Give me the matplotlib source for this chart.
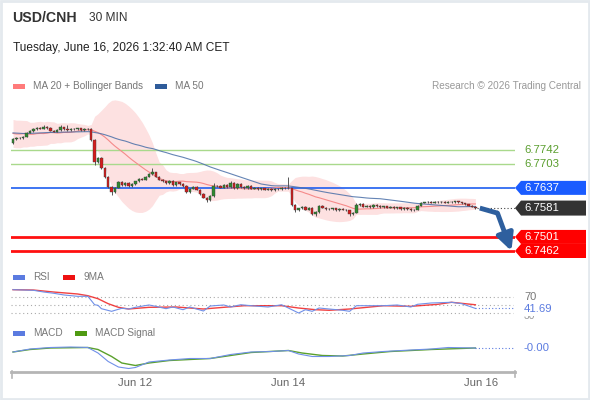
import numpy as np
import pandas as pd
import matplotlib
matplotlib.use("Agg")
import matplotlib.pyplot as plt
import matplotlib.transforms as mtransforms
from matplotlib.patches import Polygon, Rectangle
from matplotlib.lines import Line2D

plt.rcParams['font.family'] = ['Liberation Sans', 'DejaVu Sans']

# ---- data ----
prior_close = [6.7820, 6.7805, 6.7775, 6.7762, 6.7795, 6.7822, 6.7800, 6.7768, 6.7790, 6.7815,
               6.7780, 6.7760, 6.7800, 6.7820, 6.7795, 6.7772, 6.7805, 6.7790, 6.7770, 6.7762]

close = [6.7772, 6.7776, 6.7774, 6.7779,
         6.7790, 6.7795,
         6.7800, 6.7804, 6.7801, 6.7806, 6.7803, 6.7796, 6.7793, 6.7798, 6.7805, 6.7800,
         6.7797, 6.7801, 6.7799, 6.7802, 6.7798, 6.7801, 6.7800,
         6.7770, 6.7709, 6.7720, 6.7692, 6.7667, 6.7639, 6.7626, 6.7638, 6.7653,
         6.7645, 6.7650, 6.7641, 6.7648,
         6.7655, 6.7662, 6.7660, 6.7668, 6.7675,
         6.7680, 6.7668, 6.7660, 6.7655,
         6.7650, 6.7657, 6.7645, 6.7652, 6.7648, 6.7642,
         6.7625, 6.7635, 6.7640, 6.7632,
         6.7620, 6.7610, 6.7604, 6.7614, 6.7641,
         6.7643, 6.7638, 6.7645, 6.7640, 6.7650, 6.7636, 6.7648,
         6.7640, 6.7637, 6.7642, 6.7635, 6.7638, 6.7633, 6.7636, 6.7632, 6.7634, 6.7631,
         6.7635, 6.7633, 6.7637, 6.7636, 6.7636,
         6.7590, 6.7576, 6.7580, 6.7585, 6.7577, 6.7582, 6.7565, 6.7570,
         6.7588, 6.7582, 6.7579, 6.7578, 6.7580, 6.7576, 6.7579, 6.7577, 6.7575, 6.7564, 6.7568,
         6.7590, 6.7592, 6.7585, 6.7588, 6.7583, 6.7590, 6.7587, 6.7584, 6.7586, 6.7582,
         6.7585, 6.7580, 6.7583, 6.7579, 6.7581, 6.7578, 6.7575, 6.7577,
         6.7588, 6.7596, 6.7597, 6.7598, 6.7596, 6.7599, 6.7597, 6.7598, 6.7596, 6.7599,
         6.7598, 6.7600, 6.7597,
         6.7594, 6.7591, 6.7588, 6.7585, 6.7581]

wick_hi = {9: 6.7811, 14: 6.7812, 16: 6.7810, 41: 6.7692, 59: 6.7650, 64: 6.7656, 81: 6.7667, 101: 6.7596}
wick_lo = {24: 6.7700, 29: 6.7618, 57: 6.7598, 83: 6.7570, 89: 6.7560, 99: 6.7558}

rsi_x = [0, 6, 9, 12, 15, 19, 22, 23, 24, 25, 26, 29, 30, 32, 34, 36, 40, 42, 45, 47, 50, 52, 56, 58,
         62, 64, 67, 70, 75, 79, 81, 84, 86, 88, 90, 93, 97, 99, 101, 105, 109, 113, 117, 119,
         123, 129, 132, 136]
rsi_val = [89.4, 87.8, 83.5, 80.2, 75.9, 72.5, 72.5, 62.0, 51.1, 49.6, 41.0, 34.3, 36.9, 42.0, 40.2,
           44.5, 50.4, 47.0, 41.0, 45.3, 38.4, 45.3, 35.1, 47.8, 50.4, 45.3, 51.1, 48.6, 45.3, 51.1,
           42.7, 30.0, 38.4, 34.3, 42.7, 40.2, 36.9, 34.3, 48.6, 48.6, 48.6, 50.4, 45.3, 52.2,
           55.5, 57.3, 53.7, 41.69]
rsi_ma_x = [0, 6, 12, 19, 22, 25, 28, 31, 34, 40, 48, 56, 62, 68, 75, 79, 84, 89, 93, 99, 109, 117,
            125, 129, 136]
rsi_ma_val = [89.4, 88.5, 83.4, 78.4, 74.1, 66.4, 53.7, 44.5, 40.2, 44.5, 45.3, 40.2, 44.5, 48.6,
              48.6, 48.6, 42.7, 38.4, 36.9, 40.2, 48.6, 47.0, 52.2, 57.3, 51.0]

macd_x = [0, 5, 11, 17, 22, 25, 28, 31, 34, 36, 40, 46, 52, 58, 64, 70, 76, 81, 84, 88, 93, 99,
          103, 109, 117, 123, 128, 136]
macd_val = [-0.0008, -0.0002, 0.0001, 0.0002, 0.0001, -0.0010, -0.0027, -0.0038, -0.0041, -0.0039,
            -0.0028, -0.0024, -0.0021, -0.0021, -0.0013, -0.0008, -0.0007, -0.0005, -0.0012,
            -0.0017, -0.0017, -0.0015, -0.0010, -0.0007, -0.0004, -0.0002, 0.0001, 0.0000]
sig_x = [0, 5, 11, 22, 25, 29, 32, 36, 40, 46, 52, 58, 64, 70, 81, 85, 91, 97, 103, 111, 123, 136]
sig_val = [-0.0008, -0.0003, 0.0000, 0.0001, -0.0003, -0.0017, -0.0030, -0.0035, -0.0030, -0.0025,
           -0.0023, -0.0021, -0.0015, -0.0009, -0.0005, -0.0010, -0.0015, -0.0016, -0.0012,
           -0.0007, -0.0003, 0.0000]

levels_green = [6.7742, 6.7703]
level_blue = 6.7637
levels_red = [6.7501, 6.7462]
last_price = 6.7581
rsi_last = 41.69
macd_last = "-0.00"
arrow_x = [137.3, 142.5, 146.6]
arrow_y = [6.7581, 6.7567, 6.7462]
tick_pos = [36, 81, 137.6]
tick_lbl = ["Jun 12", "Jun 14", "Jun 16"]

# ---- derived series ----
full = pd.Series(prior_close + close)
n_prior = len(prior_close)
ma20 = full.rolling(20, min_periods=1).mean().values[n_prior:]
sd20 = full.rolling(20, min_periods=2).std(ddof=0).fillna(0).values[n_prior:]
ma50 = full.rolling(50, min_periods=1).mean().values[n_prior:]
upper = ma20 + 2 * sd20
lower = ma20 - 2 * sd20

c = np.array(close)
o = np.concatenate([[prior_close[-1]], c[:-1]])
idx = np.arange(len(c))
hi = np.maximum(o, c) + 0.0002
lo = np.minimum(o, c) - 0.0002
for k, v in wick_hi.items():
    hi[k] = v
for k, v in wick_lo.items():
    lo[k] = v

W, H = 590, 400
fig = plt.figure(figsize=(5.9, 4), dpi=100)
fig.patch.set_facecolor("white")


def fx(px):
    return px / W


def fy(py):
    return 1 - py / H


XL = (-0.59, 147.65)

# ---- header ----
fig.text(fx(12), fy(18), "USD/CNH", fontsize=10.2, fontweight="bold", color="#333333", va="center")
fig.text(fx(89), fy(18), "30 MIN", fontsize=8.6, color="#333333", va="center")
fig.text(fx(13), fy(48), "Tuesday, June 16, 2026 1:32:40 AM CET", fontsize=8.6, color="#222222", va="center")


def legend_item(x, y, color, label):
    fig.add_artist(Rectangle((fx(x), fy(y + 2.5)), 12 / W, 5 / H, transform=fig.transFigure,
                             facecolor=color, edgecolor="none"))
    fig.text(fx(x + 20), fy(y), label, fontsize=7.2, color="#777777", va="center")


legend_item(13, 86, "#ff7b7b", "MA 20 + Bollinger Bands")
legend_item(155, 86, "#2f5c9a", "MA 50")
fig.text(fx(581), fy(86), "Research \u00a9 2026 Trading Central", fontsize=7.2, color="#999999",
         va="center", ha="right")
legend_item(13, 277, "#5b7be0", "RSI")
legend_item(63, 277, "#ee1111", "9MA")
legend_item(13, 333, "#5b7be0", "MACD")
legend_item(75, 333, "#4f9a12", "MACD Signal")

# ---- price panel ----
ax = fig.add_axes([fx(11), fy(262), 504 / W, 167 / H])
ax.set_xlim(*XL)
ax.set_ylim(6.74315, 6.78945)
ax.axis("off")
px_per = (6.78945 - 6.74315) / 167.0

ax.fill_between(idx, lower, upper, color="#fde1e1", lw=0, zorder=1)
ax.plot(idx, ma20, color="#f58a8a", lw=0.8, zorder=3)
ax.plot(idx, ma50, color="#4a6fa8", lw=0.8, alpha=0.85, zorder=3)

for lv in levels_green:
    ax.axhline(lv, color="#a9d98c", lw=1, zorder=2)
ax.axhline(level_blue, color="#1e5ef0", lw=1.2, zorder=2)
for lv in levels_red:
    ax.axhline(lv, color="#ff1010", lw=2, zorder=2)

ax.vlines(idx, lo, hi, color="#555555", lw=0.7, zorder=4)
small = np.abs(c - o) < 0.00008
body = np.where(small, 0.00008, c - o)
cols = np.where(c >= o, "#2f8a2f", "#d41c1c")
ax.bar(idx, body, bottom=np.where(small, c - 0.00004, o), width=0.75,
       color=cols, edgecolor="#3a3a3a", linewidth=0.3, zorder=5)

ax.plot([idx[-1] + 0.5, XL[1]], [last_price, last_price], color="#444444", lw=0.8,
        ls=(0, (1, 2)), zorder=3, clip_on=False)

ax.plot(arrow_x[:2], arrow_y[:2], color="#2e5f9e", lw=3.5, solid_capstyle="butt", zorder=6)
ax.annotate("", xy=(arrow_x[2], arrow_y[2]), xytext=(arrow_x[1], arrow_y[1]),
            arrowprops=dict(arrowstyle="-|>,head_length=1.0,head_width=0.5", color="#2e5f9e",
                            lw=3.5, shrinkA=0, shrinkB=0), zorder=6, annotation_clip=False)

trans = mtransforms.blended_transform_factory(fig.transFigure, ax.transData)


def tag(level, color, half=7.0):
    h = half * px_per
    pts = [(fx(515), level), (fx(521), level + h), (fx(586), level + h),
           (fx(586), level - h), (fx(521), level - h)]
    ax.add_patch(Polygon(pts, closed=True, transform=trans, facecolor=color, edgecolor="none",
                         clip_on=False, zorder=7))


for lv in levels_green:
    ax.text(fx(524), lv, f"{lv:.4f}", transform=trans, fontsize=8.2, color="#5a9e2e", va="center",
            clip_on=False)
tag(level_blue, "#1a5cff")
ax.text(fx(524), level_blue, f"{level_blue:.4f}", transform=trans, fontsize=8.2, color="white",
        va="center", zorder=8, clip_on=False)
tag(last_price, "#333333", 7.5)
ax.text(fx(524), last_price, f"{last_price:.4f}", transform=trans, fontsize=8.2, color="white",
        va="center", zorder=8, clip_on=False)
for lv in levels_red:
    tag(lv, "#ff0000")
for lv in levels_red:
    ax.text(fx(524), lv, f"{lv:.4f}", transform=trans, fontsize=8.2, color="white", va="center",
            zorder=8, clip_on=False)

# ---- RSI panel ----
rax = fig.add_axes([fx(11), fy(320), 504 / W, 35 / H])
rax.set_xlim(*XL)
rax.set_ylim(12.2, 101.3)
rax.axis("off")
for lv in [70, 50, 30]:
    rax.plot([XL[0], 147.0], [lv, lv], color="#aaaaaa", lw=0.8, ls=(0, (1, 2.5)))
rax.plot(rsi_ma_x, rsi_ma_val, color="#ef2020", lw=1.0, alpha=0.85)
rax.plot(rsi_x, rsi_val, color="#7090e8", lw=0.8)
rax.plot([rsi_x[-1], 147.0], [rsi_last, rsi_last], color="#5b7be0", lw=0.8, ls=(0, (1, 2)))
rtrans = mtransforms.blended_transform_factory(fig.transFigure, rax.transData)
rax.text(fx(524), 70, "70", transform=rtrans, fontsize=8, color="#777777", va="center", clip_on=False)
rax.text(fx(524), 23, "30", transform=rtrans, fontsize=7.5, color="#999999", va="center", clip_on=False)
rax.text(fx(524), rsi_last - 1, f"{rsi_last:.2f}", transform=rtrans, fontsize=8.2, color="#5b7be0",
         va="center", clip_on=False,
         bbox=dict(facecolor="white", edgecolor="none", pad=1.5))

# ---- MACD panel ----
mx = fig.add_axes([fx(11), fy(370), 504 / W, 30 / H])
mx.set_xlim(*XL)
mx.set_ylim(-0.0044, 0.0016)
mx.axis("off")
mx.plot(sig_x, sig_val, color="#5aa02c", lw=1.0)
mx.plot(macd_x, macd_val, color="#7090e8", lw=0.8)
mx.plot([macd_x[-1], 147.0], [0, 0], color="#5b7be0", lw=0.8, ls=(0, (1, 2)))
mtrans = mtransforms.blended_transform_factory(fig.transFigure, mx.transData)
mx.text(fx(524), 0, macd_last, transform=mtrans, fontsize=8.2, color="#5b7be0", va="center",
        clip_on=False)

# ---- time axis ----
fig.add_artist(Line2D([fx(11), fx(515)], [fy(371.5), fy(371.5)], color="#b5b5b5", lw=2))
fig.add_artist(Line2D([fx(11.5), fx(11.5)], [fy(371), fy(378)], color="#b5b5b5", lw=1.2))
fig.add_artist(Line2D([fx(515), fx(515)], [fy(371), fy(377)], color="#b5b5b5", lw=1.2))
xtrans = mtransforms.blended_transform_factory(mx.transData, fig.transFigure)
for p, lab in zip(tick_pos, tick_lbl):
    mx.text(p, fy(383), lab, transform=xtrans, fontsize=8.2, color="#666666", ha="center",
            va="center", clip_on=False)

# frame around the widget
fig.add_artist(Rectangle((0.002, 0.003), 0.996, 0.994, transform=fig.transFigure, fill=False,
                         edgecolor="#e4e9ee", lw=2))

fig.savefig("out.png", dpi=100)
